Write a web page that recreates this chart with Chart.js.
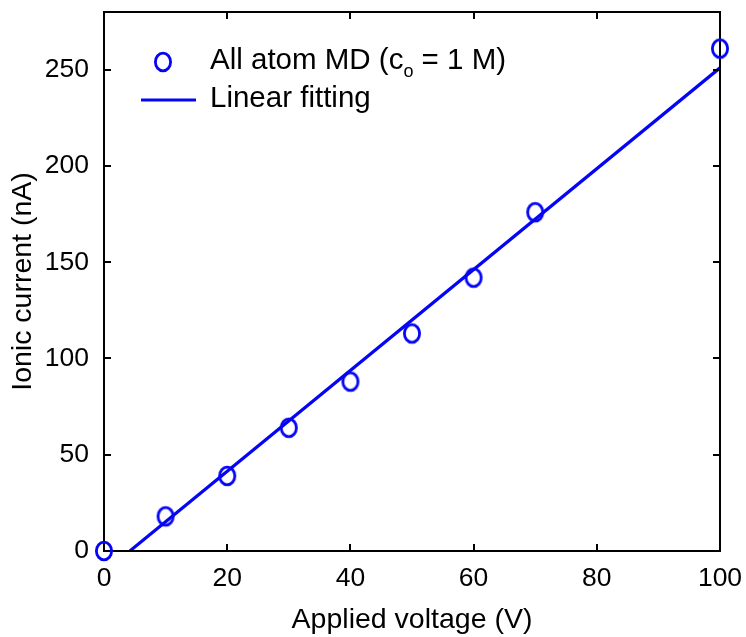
<!DOCTYPE html>
<html>
<head>
<meta charset="utf-8">
<script src="https://cdn.jsdelivr.net/npm/chart.js@4"></script>
<style>
  html, body { margin: 0; padding: 0; background: #fff; }
  #wrap { width: 746px; height: 637px; }
</style>
</head>
<body>
<div id="wrap"><canvas id="chart" width="746" height="637"></canvas></div>
<script>
const voltage = [0, 10, 20, 30, 40, 50, 60, 70, 100];
const current = [0, 18, 39, 64, 88, 113, 142, 176, 261];
const fitX = [4.2, 100];
const fitY = [0, 251];
const xTicks = [0, 20, 40, 60, 80, 100];
const yTicks = [0, 50, 100, 150, 200, 250];

const BLUE = '#0505f5';
const FONT = "'Liberation Sans', Arial, Helvetica, sans-serif";

// slightly tall open circle, like the original markers
function makeMarker() {
  const c = document.createElement('canvas');
  c.width = 22; c.height = 24;
  const g = c.getContext('2d');
  g.strokeStyle = BLUE;
  g.lineWidth = 2.8;
  g.beginPath();
  g.ellipse(11, 12, 7.6, 8.8, 0, 0, Math.PI * 2);
  g.stroke();
  return c;
}
const marker = makeMarker();

// frame + inward ticks on all four sides
const framePlugin = {
  id: 'frame',
  afterDatasetsDraw(chart) {
    const { ctx, chartArea: a, scales } = chart;
    ctx.save();
    ctx.strokeStyle = '#000';
    ctx.lineWidth = 2;
    ctx.strokeRect(a.left, a.top, a.right - a.left, a.bottom - a.top);
    ctx.beginPath();
    xTicks.forEach(v => {
      const px = Math.round(scales.x.getPixelForValue(v));
      ctx.moveTo(px, a.bottom); ctx.lineTo(px, a.bottom - 7);
      ctx.moveTo(px, a.top); ctx.lineTo(px, a.top + 7);
    });
    yTicks.forEach(v => {
      const py = Math.round(scales.y.getPixelForValue(v));
      ctx.moveTo(a.left, py); ctx.lineTo(a.left + 7, py);
      ctx.moveTo(a.right, py); ctx.lineTo(a.right - 7, py);
    });
    ctx.stroke();
    ctx.restore();
  },
  afterDraw(chart) {
    // markers sit on top of the frame, as in the original
    const meta = chart.getDatasetMeta(0);
    const { ctx } = chart;
    meta.data.forEach(p => {
      ctx.drawImage(marker, p.x - marker.width / 2, p.y - marker.height / 2);
    });
  }
};

// legend in the top-left corner of the plot
const legendPlugin = {
  id: 'insideLegend',
  afterDraw(chart) {
    const { ctx, chartArea: a } = chart;
    const x0 = a.left, y1 = a.top + 49, y2 = a.top + 87;
    ctx.save();
    ctx.drawImage(marker, x0 + 59 - marker.width / 2, y1 + 1 - marker.height / 2);
    ctx.strokeStyle = BLUE;
    ctx.lineWidth = 3.2;
    ctx.beginPath();
    ctx.moveTo(x0 + 37, y2 + 1); ctx.lineTo(x0 + 92, y2 + 1);
    ctx.stroke();

    ctx.fillStyle = '#000';
    ctx.textBaseline = 'middle';
    ctx.font = '29.5px ' + FONT;
    let tx = x0 + 106;
    const s1 = 'All atom MD (c';
    ctx.fillText(s1, tx, y1);
    tx += ctx.measureText(s1).width;
    ctx.font = '18px ' + FONT;
    ctx.fillText('o', tx, y1 + 11);
    tx += ctx.measureText('o').width;
    ctx.font = '29.5px ' + FONT;
    ctx.fillText(' = 1 M)', tx, y1);
    ctx.fillText('Linear fitting', x0 + 106, y2);
    ctx.restore();
  }
};

new Chart(document.getElementById('chart'), {
  type: 'scatter',
  data: {
    datasets: [
      {
        label: 'All atom MD',
        data: voltage.map((v, i) => ({ x: v, y: current[i] })),
        pointRadius: 0,
        showLine: false,
        clip: false,
        order: 1
      },
      {
        label: 'Linear fitting',
        type: 'line',
        data: fitX.map((v, i) => ({ x: v, y: fitY[i] })),
        borderColor: BLUE,
        borderWidth: 3.2,
        pointRadius: 0,
        fill: false,
        order: 2
      }
    ]
  },
  options: {
    responsive: false,
    animation: false,
    layout: { padding: { top: 12, right: 26, left: 0, bottom: 0 } },
    plugins: { legend: { display: false }, tooltip: { enabled: false } },
    scales: {
      x: {
        type: 'linear',
        min: 0, max: 100,
        afterBuildTicks: s => { s.ticks = xTicks.map(v => ({ value: v })); },
        afterFit: s => { s.height = 86; s.paddingLeft = 0; s.paddingRight = 0; },
        grid: { display: false },
        border: { display: false },
        ticks: { color: '#000', padding: 4, maxRotation: 0, font: { family: FONT, size: 26.5 } },
        title: {
          display: true, text: 'Applied voltage (V)', color: '#000',
          padding: { top: 6, bottom: 0 },
          font: { family: FONT, size: 28.5 }
        }
      },
      y: {
        min: 0, max: 280,
        afterBuildTicks: s => { s.ticks = yTicks.map(v => ({ value: v })); },
        afterFit: s => { s.width = 104; s.paddingTop = 0; s.paddingBottom = 0; },
        grid: { display: false },
        border: { display: false },
        ticks: { color: '#000', padding: 7, font: { family: FONT, size: 26.5 } },
        title: {
          display: true, text: 'Ionic current (nA)', color: '#000',
          padding: { top: 6, bottom: 0 },
          font: { family: FONT, size: 28.5 }
        }
      }
    }
  },
  plugins: [framePlugin, legendPlugin]
});
</script>
</body>
</html>
